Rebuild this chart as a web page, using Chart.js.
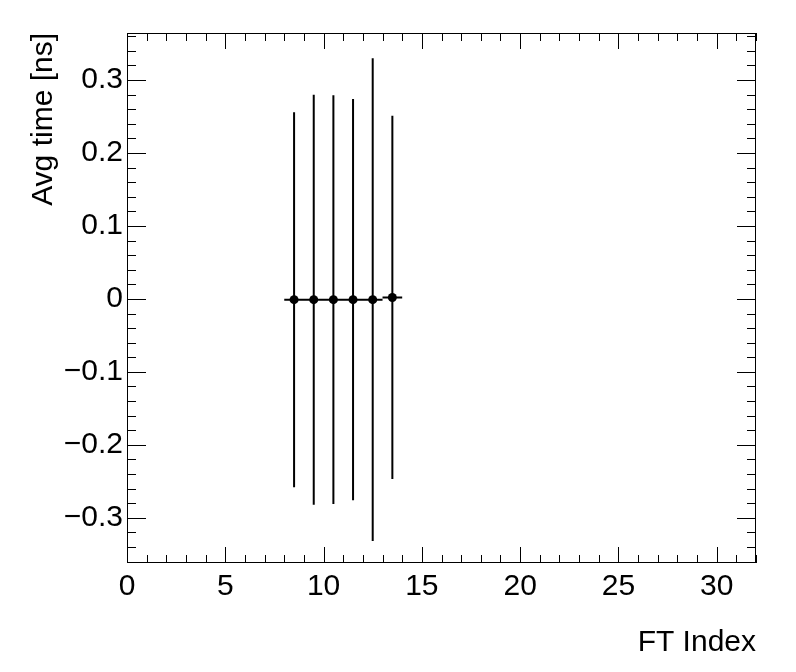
<!DOCTYPE html>
<html>
<head>
<meta charset="utf-8">
<script src="https://cdn.jsdelivr.net/npm/chart.js@4"></script>
<style>
  html, body { margin: 0; padding: 0; background: #fff; }
  #wrap { width: 796px; height: 672px; }
</style>
</head>
<body>
<div id="wrap"><canvas id="timeChart" width="796" height="672"></canvas></div>
<script>
// --- data ---
const binCenters = [8.5, 9.5, 10.5, 11.5, 12.5, 13.5];
const binHalfWidths = [0.5, 0.5, 0.5, 0.5, 0.5, 0.5];
const avgTime = [-0.001, -0.001, -0.001, -0.001, -0.001, 0.002];
const timeErr = [0.257, 0.281, 0.280, 0.275, 0.331, 0.249];

const xTicks = [0, 5, 10, 15, 20, 25, 30];
const yTicks = [-0.3, -0.2, -0.1, 0, 0.1, 0.2, 0.3];
const xMinorStep = 1;
const yMinorStep = 0.02;

const FONT = "'Liberation Sans', Arial, sans-serif";

function fmtY(v) {
    if (Math.abs(v) < 1e-9) return '0';
    const s = Math.abs(v).toFixed(1);
    return v < 0 ? '\u2212' + s : s;
}

// error bars + ROOT-like frame with inward ticks
const rootFrame = {
    id: 'rootFrame',
    beforeDatasetsDraw(chart) {
        const ctx = chart.ctx;
        const xs = chart.scales.x, ys = chart.scales.y;
        ctx.save();
        ctx.strokeStyle = '#000';
        ctx.lineWidth = 2;
        ctx.beginPath();
        for (let i = 0; i < binCenters.length; i++) {
            const px = xs.getPixelForValue(binCenters[i]);
            const py = ys.getPixelForValue(avgTime[i]);
            ctx.moveTo(xs.getPixelForValue(binCenters[i] - binHalfWidths[i]), py);
            ctx.lineTo(xs.getPixelForValue(binCenters[i] + binHalfWidths[i]), py);
            ctx.moveTo(px, ys.getPixelForValue(avgTime[i] + timeErr[i]));
            ctx.lineTo(px, ys.getPixelForValue(avgTime[i] - timeErr[i]));
        }
        ctx.stroke();
        ctx.restore();
    },
    afterDraw(chart) {
        const ctx = chart.ctx;
        const a = chart.chartArea;
        const xs = chart.scales.x, ys = chart.scales.y;
        ctx.save();
        ctx.strokeStyle = '#000';
        ctx.lineWidth = 1;
        ctx.strokeRect(Math.round(a.left) + 0.5, Math.round(a.top) + 0.5,
            Math.round(a.right - a.left) - 1, Math.round(a.bottom - a.top) - 1);

        ctx.beginPath();
        // x ticks, bottom and top
        for (let v = xs.min; v <= xs.max + 1e-9; v += xMinorStep) {
            const major = xTicks.includes(Math.round(v * 1000) / 1000);
            const len = major ? 16 : 8;
            const px = Math.round(xs.getPixelForValue(v)) + 0.5;
            ctx.moveTo(px, a.bottom); ctx.lineTo(px, a.bottom - len);
            ctx.moveTo(px, a.top); ctx.lineTo(px, a.top + len);
        }
        // y ticks, left and right
        const yStart = Math.ceil(ys.min / yMinorStep - 1e-6);
        const yEnd = Math.floor(ys.max / yMinorStep + 1e-6);
        for (let k = yStart; k <= yEnd; k++) {
            const v = k * yMinorStep;
            const major = k % 5 === 0;
            const len = major ? 19 : 9;
            const py = Math.round(ys.getPixelForValue(v)) + 0.5;
            ctx.moveTo(a.left, py); ctx.lineTo(a.left + len, py);
            ctx.moveTo(a.right, py); ctx.lineTo(a.right - len, py);
        }
        ctx.stroke();

        // axis titles, right/top aligned as in ROOT
        ctx.fillStyle = '#000';
        ctx.font = '30px ' + FONT;
        ctx.textAlign = 'right';
        ctx.textBaseline = 'alphabetic';
        ctx.fillText('FT Index', a.right, 651);
        ctx.translate(52, a.top);
        ctx.rotate(-Math.PI / 2);
        ctx.fillText('Avg time [ns]', 0, 0);
        ctx.restore();
    }
};

new Chart(document.getElementById('timeChart'), {
    type: 'scatter',
    data: {
        datasets: [{
            label: 'Avg time',
            data: binCenters.map((x, i) => ({ x: x, y: avgTime[i] })),
            pointRadius: 4.5,
            pointBackgroundColor: '#000',
            pointBorderColor: '#000',
            pointBorderWidth: 0,
            showLine: false
        }]
    },
    plugins: [rootFrame],
    options: {
        responsive: false,
        animation: false,
        layout: { padding: { top: 33, right: 40, left: 0, bottom: 0 } },
        plugins: { legend: { display: false }, tooltip: { enabled: false } },
        scales: {
            x: {
                type: 'linear',
                min: 0,
                max: 32,
                grid: { display: false, drawTicks: false },
                border: { display: false },
                afterBuildTicks: s => { s.ticks = xTicks.map(v => ({ value: v })); },
                afterFit: s => { s.height = 109; },
                ticks: {
                    padding: 6,
                    color: '#000',
                    maxRotation: 0,
                    font: { family: FONT, size: 30 },
                    callback: v => String(v)
                }
            },
            y: {
                type: 'linear',
                min: -0.362,
                max: 0.3645,
                grid: { display: false, drawTicks: false },
                border: { display: false },
                afterBuildTicks: s => { s.ticks = yTicks.map(v => ({ value: v })); },
                afterFit: s => { s.width = 127; },
                ticks: {
                    padding: 4,
                    color: '#000',
                    font: { family: FONT, size: 30 },
                    callback: v => fmtY(v)
                }
            }
        }
    }
});
</script>
</body>
</html>
